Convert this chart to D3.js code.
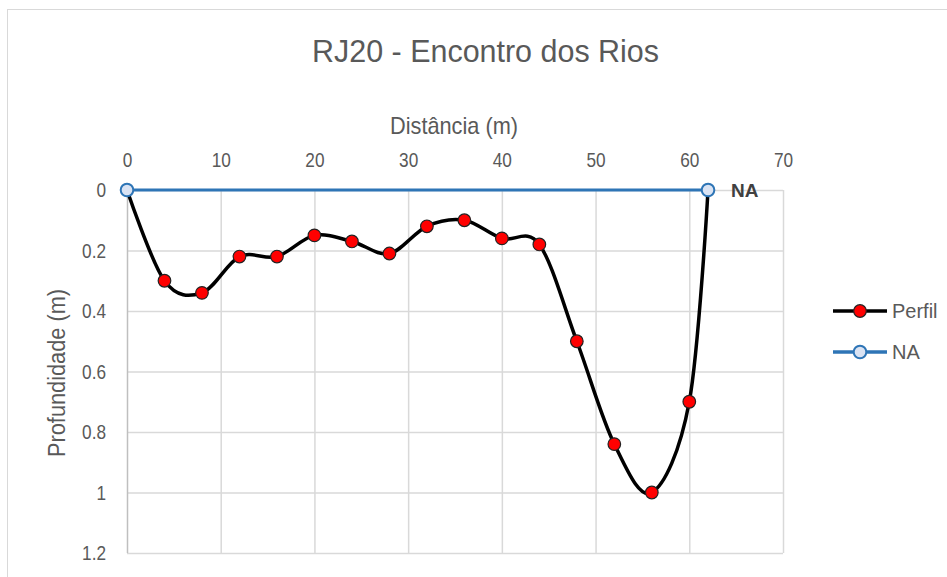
<!DOCTYPE html>
<html><head><meta charset="utf-8">
<script src="https://cdn.jsdelivr.net/npm/d3@7"></script>
<style>body{margin:0;background:#fff;} svg{display:block;} text{font-family:"Liberation Sans","Arial",sans-serif;}</style>
</head><body>
<svg id="chart" width="947" height="577"></svg>
<script>
const perfilX = [0,4,8,12,16,20,24,28,32,36,40,44,48,52,56,60,62];
const perfilY = [0,0.30,0.34,0.22,0.22,0.15,0.17,0.21,0.12,0.10,0.16,0.18,0.50,0.84,1.00,0.70,0];
const naX = [0,62];
const naY = [0,0];
const xTicks = [0,10,20,30,40,50,60,70];
const yTicks = [0,0.2,0.4,0.6,0.8,1,1.2];
const title = "RJ20 - Encontro dos Rios";
const xTitle = "Distância (m)";
const yTitle = "Profundidade (m)";
const seriesNames = ["Perfil","NA"];

const svg = d3.select("#chart");
const W=947,H=577;
svg.append("rect").attr("x",7.5).attr("y",9.5).attr("width",W).attr("height",H).attr("fill","none").attr("stroke","#d9d9d9").attr("stroke-width",1);

const x = d3.scaleLinear().domain([0,70]).range([127,783]);
const y = d3.scaleLinear().domain([0,1.2]).range([190,553]);
const grid = "#d9d9d9";

function narrow(sel,k){
  sel.each(function(){
    const t=d3.select(this); const tx=+t.attr("x")||0;
    t.attr("transform",`translate(${tx*(1-k)},0) scale(${k},1)`);
  });
}

svg.append("g").selectAll("line").data(xTicks.slice(1)).join("line")
  .attr("x1",d=>x(d)+0.5).attr("x2",d=>x(d)+0.5).attr("y1",y(0)).attr("y2",y(1.2))
  .attr("stroke",grid).attr("stroke-width",1.5);
svg.append("g").selectAll("line").data(yTicks).join("line")
  .attr("x1",x(0)).attr("x2",x(70)).attr("y1",d=>y(d)+0.5).attr("y2",d=>y(d)+0.5)
  .attr("stroke",grid).attr("stroke-width",1.5);
svg.append("line").attr("x1",x(0)+0.5).attr("x2",x(0)+0.5).attr("y1",y(0)).attr("y2",y(1.2)).attr("stroke","#bfbfbf").attr("stroke-width",1.5);

const xAxis = svg.append("g").attr("transform",`translate(0,${y(0)})`)
  .call(d3.axisTop(x).tickValues(xTicks).tickSize(0).tickPadding(23).tickFormat(d3.format("d")));
xAxis.select(".domain").remove();
xAxis.selectAll("text").attr("font-size",21).attr("fill","#595959").attr("font-family","Liberation Sans, Arial, sans-serif");
narrow(xAxis.selectAll("text"),0.82);
const yAxis = svg.append("g").attr("transform",`translate(${x(0)},0)`)
  .call(d3.axisLeft(y).tickValues(yTicks).tickSize(0).tickPadding(21).tickFormat(d=>String(+d.toFixed(1))));
yAxis.select(".domain").remove();
yAxis.selectAll("text").attr("font-size",21).attr("fill","#595959").attr("font-family","Liberation Sans, Arial, sans-serif");
narrow(yAxis.selectAll("text"),0.82);

svg.append("text").attr("x",485.5).attr("y",62).attr("text-anchor","middle").attr("font-size",32).attr("fill","#595959")
  .attr("textLength",347).attr("lengthAdjust","spacingAndGlyphs").text(title);
svg.append("text").attr("x",454).attr("y",134).attr("text-anchor","middle").attr("font-size",24).attr("fill","#595959")
  .attr("textLength",128).attr("lengthAdjust","spacingAndGlyphs").text(xTitle);
svg.append("text").attr("transform","translate(65,373) rotate(-90)").attr("text-anchor","middle").attr("font-size",23).attr("fill","#595959")
  .attr("textLength",168).attr("lengthAdjust","spacingAndGlyphs").text(yTitle);

const naData = naX.map((v,i)=>[v,naY[i]]);
svg.append("path").datum(naData).attr("d",d3.line().x(d=>x(d[0])).y(d=>y(d[1])))
  .attr("fill","none").attr("stroke","#2e75b6").attr("stroke-width",3);

const pData = perfilX.map((v,i)=>[v,perfilY[i]]);
svg.append("path").datum(pData).attr("d",d3.line().x(d=>x(d[0])).y(d=>y(d[1])).curve(d3.curveCardinal.tension(0)))
  .attr("fill","none").attr("stroke","#000").attr("stroke-width",3.5);

svg.append("g").selectAll("circle").data(pData.slice(1,-1)).join("circle")
  .attr("cx",d=>x(d[0])).attr("cy",d=>y(d[1])).attr("r",6.3)
  .attr("fill","#ff0000").attr("stroke","#222").attr("stroke-width",1.2);

svg.append("g").selectAll("circle").data(naData).join("circle")
  .attr("cx",d=>x(d[0])).attr("cy",d=>y(d[1])).attr("r",6.3)
  .attr("fill","#dae3f3").attr("stroke","#2e75b6").attr("stroke-width",2);

svg.append("text").attr("x",x(naX[1])+23).attr("y",y(0)+7).attr("font-size",19).attr("font-weight","bold").attr("fill","#404040").text("NA");

const leg = svg.append("g");
const legY = [311,352];
const legColors = [["#000","#ff0000","#222"],["#2e75b6","#dae3f3","#2e75b6"]];
seriesNames.forEach((n,i)=>{
  leg.append("line").attr("x1",833).attr("x2",887).attr("y1",legY[i]).attr("y2",legY[i]).attr("stroke",legColors[i][0]).attr("stroke-width",3.5);
  leg.append("circle").attr("cx",860).attr("cy",legY[i]).attr("r",6.3).attr("fill",legColors[i][1]).attr("stroke",legColors[i][2]).attr("stroke-width",i?2:1.2);
  leg.append("text").attr("x",892).attr("y",legY[i]+7).attr("font-size",20).attr("fill","#595959").text(n);
});
</script>
</body></html>
